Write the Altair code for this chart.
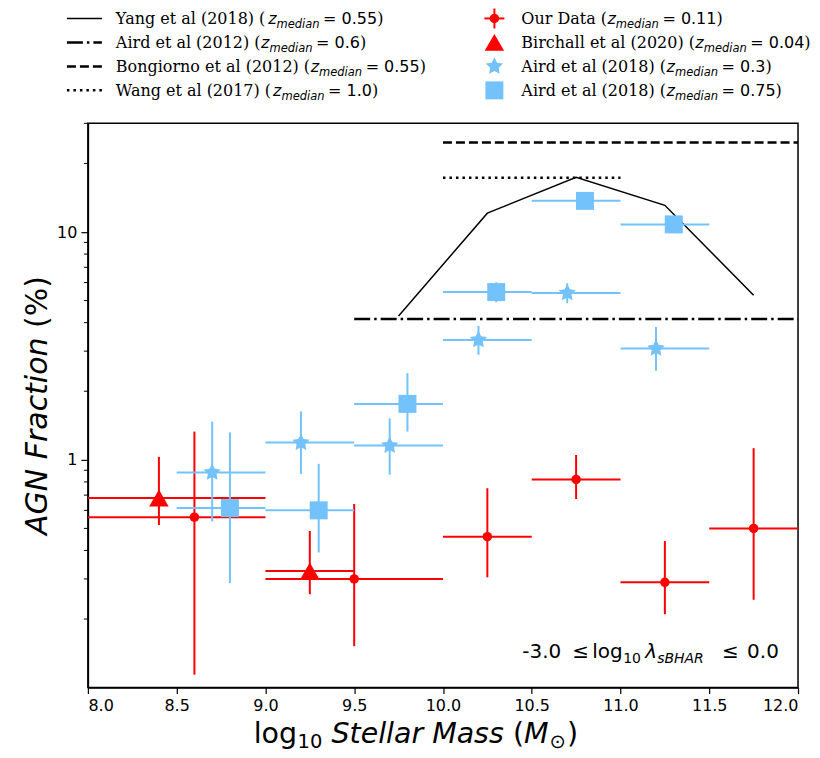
import altair as alt
import pandas as pd

# ---------------- data ----------------
our_x = [8.6, 9.5, 10.25, 10.75, 11.25, 11.75]
our_y = [0.56, 0.30, 0.46, 0.82, 0.29, 0.50]
our_xlo = [8.0, 9.0, 10.0, 10.5, 11.0, 11.5]
our_xhi = [9.0, 10.0, 10.5, 11.0, 11.5, 12.0]
our_ylo = [0.114, 0.152, 0.305, 0.673, 0.21, 0.243]
our_yhi = [1.33, 0.64, 0.75, 1.05, 0.44, 1.125]

bir_x = [8.4, 9.25]
bir_y = [0.68, 0.325]
bir_xlo = [8.0, 9.0]
bir_xhi = [9.0, 9.5]
bir_ylo = [0.517, 0.257]
bir_yhi = [1.03, 0.487]

a03_x = [8.7, 9.2, 9.7, 10.2, 10.7, 11.2]
a03_y = [0.88, 1.19, 1.155, 3.36, 5.4, 3.08]
a03_xlo = [8.5, 9.0, 9.5, 10.0, 10.5, 11.0]
a03_xhi = [9.0, 9.5, 10.0, 10.5, 11.0, 11.5]
a03_ylo = [0.537, 0.868, 0.86, 2.89, 4.87, 2.46]
a03_yhi = [1.47, 1.63, 1.52, 3.87, 5.96, 3.83]

a075_x = [8.8, 9.3, 9.8, 10.3, 10.8, 11.3]
a075_y = [0.614, 0.60, 1.76, 5.45, 13.7, 10.8]
a075_xlo = [8.5, 9.0, 9.5, 10.0, 10.5, 11.0]
a075_xhi = [9.0, 9.5, 10.0, 10.5, 11.0, 11.5]
a075_ylo = [0.288, 0.392, 1.33, 4.92, 12.9, 10.2]
a075_yhi = [1.32, 0.96, 2.40, 6.02, 14.5, 11.4]

yang_x = [9.75, 10.25, 10.75, 11.25, 11.75]
yang_y = [4.28, 12.1, 17.4, 13.1, 5.28]

aird12_x = [9.5, 12.0]
aird12_y = [4.15, 4.15]
bong_x = [10.0, 12.0]
bong_y = [24.7, 24.7]
wang_x = [10.0, 11.0]
wang_y = [17.3, 17.3]

x_ticks = [8.0, 8.5, 9.0, 9.5, 10.0, 10.5, 11.0, 11.5, 12.0]
y_major = [1, 10]
y_minor = [0.2, 0.3, 0.4, 0.5, 0.6, 0.7, 0.8, 0.9, 2, 3, 4, 5, 6, 7, 8, 9, 20, 30]

left_labels = ["Yang et al (2018) (", "Aird et al (2012) (", "Bongiorno et al (2012) (", "Wang et al (2017) ("]
left_z = ["0.55", "0.6", "0.55", "1.0"]
right_labels = ["Our Data (", "Birchall et al (2020) (", "Aird et al (2018) (", "Aird et al (2018) ("]
right_z = ["0.11", "0.04", "0.3", "0.75"]

# ---------------- layout / style ----------------
W, H = 711, 565
RED = "#ff0000"
BLUE = "#73c2fb"
SANSF = "DejaVu Sans"
SERIFF = "DejaVu Serif"
STAR = ("M0,-1L0.2939,-0.4045L0.9511,-0.309L0.4755,0.1545L0.5878,0.809L0,0.5"
        "L-0.5878,0.809L-0.4755,0.1545L-0.9511,-0.309L-0.2939,-0.4045Z")

xs = alt.Scale(domain=[8.0, 12.0], nice=False, zero=False)
ys = alt.Scale(type="log", domain=[0.1, 30], nice=False)
AX = alt.Axis(values=x_ticks, format=".1f", tickSize=6, title=None,
              labelFontSize=16, labelPadding=4, grid=False)
AY = alt.Axis(values=y_major, format="~g", tickSize=7, title=None,
              labelFontSize=16, labelPadding=4, grid=False)

SANS_W = {' ': .318, '(': .390, ')': .390, '=': .838, '.': .318, '-': .361,
          'z': .525, 'm': .974, 'e': .615, 'd': .635, 'i': .278, 'a': .613, 'n': .634}
for c in "0123456789":
    SANS_W[c] = .636
SERIF_W = {' ': .318, '(': .390, ')': .390, 'A': .722, 'B': .735, 'D': .828, 'O': .788,
           'W': 1.034, 'Y': .724, 'a': .596, 'c': .551, 'd': .641, 'e': .592, 'g': .641,
           'h': .642, 'i': .320, 'l': .320, 'n': .642, 'o': .602, 'r': .478, 't': .402, 'u': .644}
for c in "0123456789":
    SERIF_W[c] = .636


def wid(s, table, size):
    return sum(table.get(c, 0.6) for c in s) * size


def X(f):
    return alt.X(f, scale=xs, axis=AX)


def Y(f):
    return alt.Y(f, scale=ys, axis=AY)


def series(x, y, xlo, xhi, ylo, yhi, color, shape, size):
    df = pd.DataFrame({"x": x, "y": y, "xlo": xlo, "xhi": xhi, "ylo": ylo, "yhi": yhi})
    b = alt.Chart(df)
    xe = b.mark_rule(color=color, strokeWidth=2).encode(x=X("xlo:Q"), x2="xhi:Q", y=Y("y:Q"))
    ye = b.mark_rule(color=color, strokeWidth=2).encode(x=X("x:Q"), y=Y("ylo:Q"), y2="yhi:Q")
    pt = b.mark_point(filled=True, opacity=1, shape=shape, size=size, color=color,
                      strokeWidth=0).encode(x=X("x:Q"), y=Y("y:Q"))
    return [xe, ye, pt]


def dline(x, y, dash, width):
    df = pd.DataFrame({"x": x, "y": y})
    kw = dict(color="black", strokeWidth=width)
    if dash:
        kw["strokeDash"] = dash
    return alt.Chart(df).mark_line(**kw).encode(x=X("x:Q"), y=Y("y:Q"))


DASHDOT = [16, 4, 2.5, 4]
DASHED = [9, 4]
DOTTED = [2.5, 4]

layers = [dline(yang_x, yang_y, None, 1.5),
          dline(aird12_x, aird12_y, DASHDOT, 2.5),
          dline(bong_x, bong_y, DASHED, 2.5),
          dline(wang_x, wang_y, DOTTED, 2.5)]

minor = alt.Chart(pd.DataFrame({"v": y_minor})).mark_rule(color="black", strokeWidth=1).encode(
    x=alt.value(-4), x2=alt.value(0), y=Y("v:Q"))
layers.append(minor)

layers += series(our_x, our_y, our_xlo, our_xhi, our_ylo, our_yhi, RED, "circle", 90)
layers += series(bir_x, bir_y, bir_xlo, bir_xhi, bir_ylo, bir_yhi, RED, "triangle-up", 380)
layers += series(a03_x, a03_y, a03_xlo, a03_xhi, a03_ylo, a03_yhi, BLUE, STAR, 330)
layers += series(a075_x, a075_y, a075_xlo, a075_xhi, a075_ylo, a075_yhi, BLUE, "square", 324)

DUMMY = pd.DataFrame({"k": [0]})


def txt(x, y, s, font, size, style="normal", angle=0, align="left"):
    kw = dict(font=font, fontSize=size, fontStyle=style, align=align,
              baseline="alphabetic", color="black")
    if angle:
        kw["angle"] = angle
    return alt.Chart(DUMMY).mark_text(**kw).encode(
        x=alt.value(x), y=alt.value(y), text=alt.value(s))


# ---------------- legend ----------------
FS, FSS = 16, 11.5
row_c = [-105, -81, -57, -33]


def legend_text(x0, yc, lead, val):
    out = []
    yb = yc + 6
    x = x0
    out.append(txt(x, yb, lead, SERIFF, FS))
    x += wid(lead, SERIF_W, FS) + 0.5
    out.append(txt(x, yb, "z", SANSF, FS, "italic"))
    x += wid("z", SANS_W, FS)
    out.append(txt(x, yb + 4, "median", SANSF, FSS, "italic"))
    x += wid("median", SANS_W, FSS) + 3.5
    out.append(txt(x, yb, "= " + val, SANSF, FS))
    x += wid("= " + val, SANS_W, FS)
    out.append(txt(x, yb, ")", SERIFF, FS))
    return out


for i in range(4):
    layers += legend_text(28, row_c[i], left_labels[i], left_z[i])
    layers += legend_text(434, row_c[i], right_labels[i], right_z[i])

dashes = [None, DASHDOT, DASHED, DOTTED]
widths = [1.5, 2.5, 2.5, 2.5]
for i in range(4):
    kw = dict(color="black", strokeWidth=widths[i])
    if dashes[i]:
        kw["strokeDash"] = dashes[i]
    layers.append(alt.Chart(DUMMY).mark_rule(**kw).encode(
        x=alt.value(-21), x2=alt.value(14), y=alt.value(row_c[i])))

MX = 407
layers.append(alt.Chart(DUMMY).mark_rule(color=RED, strokeWidth=2).encode(
    x=alt.value(MX - 10), x2=alt.value(MX + 10), y=alt.value(row_c[0])))
layers.append(alt.Chart(DUMMY).mark_rule(color=RED, strokeWidth=2).encode(
    x=alt.value(MX), y=alt.value(row_c[0] - 10), y2=alt.value(row_c[0] + 10)))
marks = [(RED, "circle", 90), (RED, "triangle-up", 380), (BLUE, STAR, 330), (BLUE, "square", 324)]
for i, (col, shp, sz) in enumerate(marks):
    layers.append(alt.Chart(DUMMY).mark_point(
        filled=True, opacity=1, shape=shp, size=sz, color=col, strokeWidth=0).encode(
        x=alt.value(MX), y=alt.value(row_c[i])))

# ---------------- axis titles ----------------
XT = 166
TB = H + 55
tf, ts = 28.5, 19.5
x = XT
layers.append(txt(x, TB, "log", SANSF, tf)); x += 1.525 * tf + 0.5
layers.append(txt(x, TB + 5, "10", SANSF, ts)); x += 1.272 * ts + 0.318 * tf
layers.append(txt(x, TB, "Stellar Mass", SANSF, tf, "italic")); x += 6.058 * tf + 0.318 * tf
layers.append(txt(x, TB, "(", SANSF, tf)); x += 0.39 * tf
layers.append(txt(x, TB, "M", SANSF, tf, "italic")); x += 0.863 * tf + 1
layers.append(txt(x, TB + 5, "⊙", SANSF, ts)); x += 0.838 * ts + 1
layers.append(txt(x, TB, ")", SANSF, tf))

yf = 30
ylen1 = 6.908 * yf
ylen2 = 1.73 * yf
ystart = H / 2 + (ylen1 + ylen2) / 2
layers.append(txt(-41, ystart, "AGN Fraction ", SANSF, yf, "italic", angle=270))
layers.append(txt(-41, ystart - ylen1, "(%)", SANSF, yf, angle=270))

# ---------------- annotation ----------------
AB = 535
af, asb = 20, 14
layers.append(txt(435, AB, "-3.0", SANSF, af))
layers.append(txt(485, AB, "≤", SANSF, af))
layers.append(txt(505, AB, "log", SANSF, af))
layers.append(txt(536, AB + 5, "10", SANSF, asb))
layers.append(txt(558, AB, "λ", SANSF, af, "italic"))
layers.append(txt(570, AB + 5, "sBHAR", SANSF, asb, "italic"))
layers.append(txt(635, AB, "≤", SANSF, af))
layers.append(txt(660, AB, "0.0", SANSF, af))

chart = alt.layer(*layers).properties(
    width=W, height=H,
    autosize=alt.AutoSizeParams(type="none"),
    padding={"left": 80, "top": 115, "right": 14, "bottom": 68},
).configure_view(
    stroke="black", strokeWidth=1.5
).configure_axis(
    domainColor="black", domainWidth=1.5, tickColor="black", tickWidth=1.2,
    labelColor="black", labelFont=SANSF, grid=False
)

chart.save("out.html", embed_options={"renderer": "svg", "actions": False})
